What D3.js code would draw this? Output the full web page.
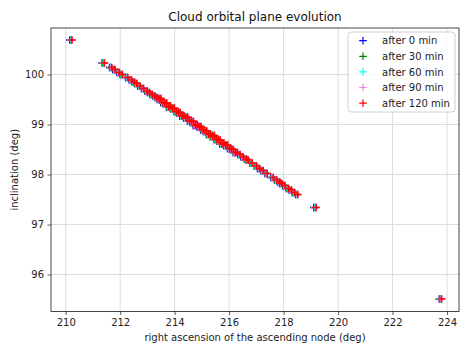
<!DOCTYPE html>
<html>
<head>
<meta charset="utf-8">
<script src="https://cdn.jsdelivr.net/npm/d3@7"></script>
<style>
  html, body { margin: 0; padding: 0; background: #fff; }
  svg { display: block; font-family: "DejaVu Sans", sans-serif; }
</style>
</head>
<body>
<svg id="chart" width="462" height="347"></svg>
<script>
// Right ascension of the ascending node (deg) of each cloud particle, per snapshot
const raan0 = [210.15, 211.34, 211.61, 211.73, 211.89, 212.00, 212.20, 212.34, 212.44, 212.53, 212.65, 212.78, 212.91, 213.00, 213.10, 213.20, 213.28, 213.35,
  213.42, 213.49, 213.56, 213.63, 213.70, 213.77, 213.84, 213.91, 213.98, 214.05, 214.12, 214.19, 214.26, 214.33, 214.40, 214.47, 214.54, 214.61, 214.68, 214.75, 214.82, 214.89, 214.96, 215.03, 215.10, 215.17, 215.24, 215.31, 215.38, 215.45, 215.52, 215.59, 215.66, 215.73, 215.80, 215.87, 215.94, 216.01, 216.08, 216.15, 216.22,
  216.32, 216.44, 216.56, 216.62, 216.77, 216.93, 217.04, 217.17, 217.32, 217.54, 217.67, 217.78, 217.85, 217.97, 218.10, 218.21, 218.32, 218.44, 219.11, 223.72];
const raan30 = [210.17, 211.36, 211.63, 211.75, 211.91, 212.02, 212.22, 212.36, 212.46, 212.55, 212.67, 212.80, 212.93, 213.02, 213.12, 213.22, 213.30, 213.37,
  213.44, 213.51, 213.58, 213.65, 213.72, 213.79, 213.86, 213.93, 214.00, 214.07, 214.14, 214.21, 214.28, 214.35, 214.42, 214.49, 214.56, 214.63, 214.70, 214.77, 214.84, 214.91, 214.98, 215.05, 215.12, 215.19, 215.26, 215.33, 215.40, 215.47, 215.54, 215.61, 215.68, 215.75, 215.82, 215.89, 215.96, 216.03, 216.10, 216.17, 216.24,
  216.34, 216.46, 216.58, 216.64, 216.79, 216.95, 217.06, 217.19, 217.34, 217.56, 217.69, 217.80, 217.87, 217.99, 218.12, 218.23, 218.34, 218.46, 219.13, 223.74];
const raan60 = [210.19, 211.38, 211.65, 211.77, 211.93, 212.04, 212.24, 212.38, 212.48, 212.57, 212.69, 212.82, 212.95, 213.04, 213.14, 213.24, 213.32, 213.39,
  213.46, 213.53, 213.60, 213.67, 213.74, 213.81, 213.88, 213.95, 214.02, 214.09, 214.16, 214.23, 214.30, 214.37, 214.44, 214.51, 214.58, 214.65, 214.72, 214.79, 214.86, 214.93, 215.00, 215.07, 215.14, 215.21, 215.28, 215.35, 215.42, 215.49, 215.56, 215.63, 215.70, 215.77, 215.84, 215.91, 215.98, 216.05, 216.12, 216.19, 216.26,
  216.36, 216.48, 216.60, 216.66, 216.81, 216.97, 217.08, 217.21, 217.36, 217.58, 217.71, 217.82, 217.89, 218.01, 218.14, 218.25, 218.36, 218.48, 219.15, 223.76];
const raan90 = [210.21, 211.40, 211.67, 211.79, 211.95, 212.06, 212.26, 212.40, 212.50, 212.59, 212.71, 212.84, 212.97, 213.06, 213.16, 213.26, 213.34, 213.41,
  213.48, 213.55, 213.62, 213.69, 213.76, 213.83, 213.90, 213.97, 214.04, 214.11, 214.18, 214.25, 214.32, 214.39, 214.46, 214.53, 214.60, 214.67, 214.74, 214.81, 214.88, 214.95, 215.02, 215.09, 215.16, 215.23, 215.30, 215.37, 215.44, 215.51, 215.58, 215.65, 215.72, 215.79, 215.86, 215.93, 216.00, 216.07, 216.14, 216.21, 216.28,
  216.38, 216.50, 216.62, 216.68, 216.83, 216.99, 217.10, 217.23, 217.38, 217.60, 217.73, 217.84, 217.91, 218.03, 218.16, 218.27, 218.38, 218.50, 219.17, 223.78];
const raan120 = [210.23, 211.42, 211.69, 211.81, 211.97, 212.08, 212.28, 212.42, 212.52, 212.61, 212.73, 212.86, 212.99, 213.08, 213.18, 213.28, 213.36, 213.43,
  213.50, 213.57, 213.64, 213.71, 213.78, 213.85, 213.92, 213.99, 214.06, 214.13, 214.20, 214.27, 214.34, 214.41, 214.48, 214.55, 214.62, 214.69, 214.76, 214.83, 214.90, 214.97, 215.04, 215.11, 215.18, 215.25, 215.32, 215.39, 215.46, 215.53, 215.60, 215.67, 215.74, 215.81, 215.88, 215.95, 216.02, 216.09, 216.16, 216.23, 216.30,
  216.40, 216.52, 216.64, 216.70, 216.85, 217.01, 217.12, 217.25, 217.40, 217.62, 217.75, 217.86, 217.93, 218.05, 218.18, 218.29, 218.40, 218.52, 219.19, 223.80];

// Inclination (deg) of each particle; it stays constant while the node drifts
const inclination = [100.69, 100.23, 100.14, 100.10, 100.04, 100.00, 99.94, 99.89, 99.85, 99.82, 99.77, 99.72, 99.67, 99.64, 99.60, 99.57, 99.54, 99.51,
  99.52, 99.44, 99.43, 99.43, 99.35, 99.37, 99.32, 99.33, 99.26, 99.25, 99.24, 99.17, 99.18, 99.13, 99.15, 99.07, 99.07, 99.06, 98.98, 99.00, 98.95, 98.96, 98.89, 98.88, 98.87, 98.80, 98.81, 98.76, 98.78, 98.70, 98.70, 98.69, 98.61, 98.63, 98.58, 98.59, 98.52, 98.51, 98.50, 98.44, 98.44,
  98.40, 98.35, 98.31, 98.29, 98.23, 98.17, 98.12, 98.08, 98.02, 97.94, 97.89, 97.85, 97.82, 97.78, 97.72, 97.69, 97.64, 97.60, 97.34, 95.51];

const seriesLabels = ["after 0 min", "after 30 min", "after 60 min", "after 90 min", "after 120 min"];
const seriesColors = ["#0000ff", "#008000", "#00ffff", "#ee82ee", "#ff0000"];
const seriesRaan = [raan0, raan30, raan60, raan90, raan120];

const xTicks = [210, 212, 214, 216, 218, 220, 222, 224];
const yTicks = [96, 97, 98, 99, 100];
const xLimits = [209.46, 224.44];
const yLimits = [95.26, 100.93];

const svg = d3.select("#chart");
const margin = { left: 51, right: 3, top: 28, bottom: 35.5 };
const W = +svg.attr("width"), H = +svg.attr("height");
const plotW = W - margin.left - margin.right;
const plotH = H - margin.top - margin.bottom;

const x = d3.scaleLinear().domain(xLimits).range([0, plotW]);
const y = d3.scaleLinear().domain(yLimits).range([plotH, 0]);

const g = svg.append("g").attr("transform", `translate(${margin.left},${margin.top})`);

// grid
g.append("g").selectAll("line").data(xTicks).join("line")
  .attr("x1", d => x(d)).attr("x2", d => x(d)).attr("y1", 0).attr("y2", plotH)
  .attr("stroke", "#dcdcdc").attr("stroke-width", 1);
g.append("g").selectAll("line").data(yTicks).join("line")
  .attr("y1", d => y(d)).attr("y2", d => y(d)).attr("x1", 0).attr("x2", plotW)
  .attr("stroke", "#dcdcdc").attr("stroke-width", 1);

// axes
const xAxis = g.append("g").attr("transform", `translate(0,${plotH})`)
  .call(d3.axisBottom(x).tickValues(xTicks).tickFormat(d3.format("d")).tickSize(3.5).tickPadding(3.5));
const yAxis = g.append("g")
  .call(d3.axisLeft(y).tickValues(yTicks).tickFormat(d3.format("d")).tickSize(3.5).tickPadding(3.5));
[xAxis, yAxis].forEach(a => {
  a.select(".domain").remove();
  a.selectAll(".tick line").attr("stroke", "#333").attr("stroke-width", 0.8);
  a.selectAll(".tick text").attr("fill", "#222").style("font-size", "10px").style("font-family", "DejaVu Sans, sans-serif");
});

// scatter markers ('+')
const arm = 3.8;
const plus = `M${-arm},0H${arm}M0,${-arm}V${arm}`;
svg.append("defs").append("clipPath").attr("id", "plotclip")
  .append("rect").attr("width", plotW).attr("height", plotH);
const marks = g.append("g").attr("clip-path", "url(#plotclip)");
seriesRaan.forEach((raan, s) => {
  const pts = raan.map((r, i) => [r, inclination[i]]);
  marks.append("g").selectAll("path").data(pts).join("path")
    .attr("d", plus)
    .attr("transform", d => `translate(${x(d[0])},${y(d[1])})`)
    .attr("stroke", seriesColors[s]).attr("stroke-width", 1.6).attr("fill", "none");
});

// frame
g.append("rect").attr("width", plotW).attr("height", plotH)
  .attr("fill", "none").attr("stroke", "#333").attr("stroke-width", 0.9);

// title and axis labels
svg.append("text").attr("x", margin.left + plotW / 2).attr("y", 21)
  .attr("text-anchor", "middle").style("font-size", "12px").attr("fill", "#111")
  .text("Cloud orbital plane evolution");
svg.append("text").attr("x", margin.left + plotW / 2).attr("y", 341)
  .attr("text-anchor", "middle").style("font-size", "10px").attr("fill", "#222")
  .text("right ascension of the ascending node (deg)");
svg.append("text").attr("transform", `translate(18,${margin.top + plotH / 2}) rotate(-90)`)
  .attr("text-anchor", "middle").style("font-size", "10px").attr("fill", "#222")
  .text("inclination (deg)");

// legend
const leg = svg.append("g").attr("transform", "translate(348,32)");
leg.append("rect").attr("width", 107).attr("height", 80).attr("rx", 3)
  .attr("fill", "#fff").attr("fill-opacity", 0.8).attr("stroke", "#d0d0d0").attr("stroke-width", 1);
seriesLabels.forEach((lab, s) => {
  const row = leg.append("g").attr("transform", `translate(0,${8.7 + s * 15.6})`);
  row.append("path").attr("d", plus).attr("transform", "translate(15,0)")
    .attr("stroke", seriesColors[s]).attr("stroke-width", 1.2).attr("fill", "none");
  row.append("text").attr("x", 34).attr("y", 3.6).style("font-size", "10px").attr("fill", "#222").text(lab);
});
</script>
</body>
</html>
